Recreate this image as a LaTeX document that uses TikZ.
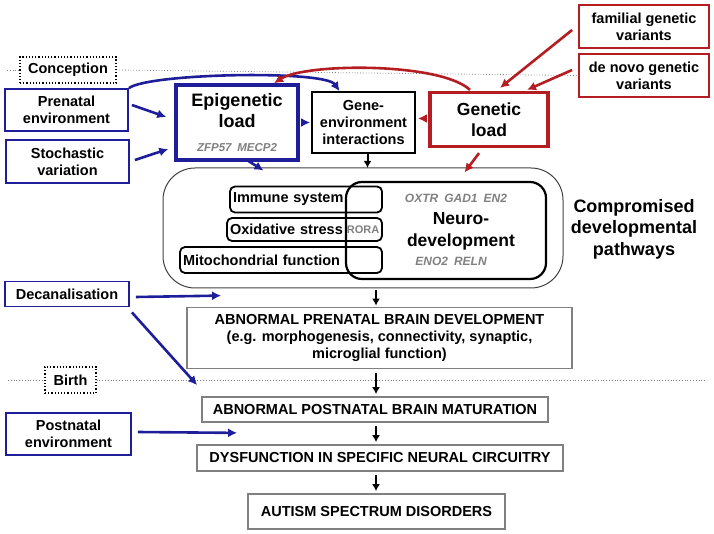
\documentclass[tikz,border=0pt]{standalone}
\usepackage{fontspec}
\setmainfont{Liberation Sans}
\usetikzlibrary{arrows.meta,positioning,calc}
\definecolor{epiblue}{RGB}{30,30,155}
\definecolor{genred}{RGB}{180,30,35}
\definecolor{genegray}{RGB}{128,128,128}
\definecolor{stagegray}{RGB}{128,128,128}

\begin{document}
\begin{tikzpicture}[x=1pt,y=-1pt,
  lbl/.style={font=\fontsize{14.5}{17}\selectfont\bfseries, align=center, inner sep=0pt},
  bluebox/.style={lbl, draw=epiblue, line width=1.8pt, fill=white},
  redbox/.style={lbl, draw=genred, line width=1.8pt, fill=white},
  stagebox/.style={lbl, draw=stagegray, line width=1.8pt, fill=white},
  subbox/.style={lbl, draw, line width=1.8pt, rounded corners=5pt, align=left, inner xsep=3pt},
  timebox/.style={lbl, draw, dotted, line width=1.2pt, fill=white},
  timeline/.style={dotted, gray, line width=0.8pt},
  gene/.style={font=\fontsize{12}{14}\selectfont\bfseries\itshape, text=genegray, inner sep=0pt},
  bluearr/.style={-{Latex[length=9pt,width=9pt]}, epiblue, line width=2.6pt},
  redarr/.style={-{Latex[length=9pt,width=9pt]}, genred, line width=2.6pt},
  blackarr/.style={-{Latex[length=7pt,width=8pt]}, line width=2pt}]
\useasboundingbox (0,0) rectangle (714,534);

% time points
\node[timebox, minimum width=96, minimum height=26] (conception) at (68,70) {Conception};
\node[timebox, minimum width=51, minimum height=26] (birth) at (70.5,380) {Birth};
\node[redbox, minimum width=130, minimum height=43] (familial) at (644,26.5) {familial genetic\\variants};
\node[redbox, minimum width=130, minimum height=43] (denovo) at (644,75.5) {de novo genetic\\variants};
\draw[timeline] (7,70) -- (conception.west);
\draw[timeline] (conception.east) -- (denovo.west);
\draw[timeline] (8,380) -- (birth.west);
\draw[timeline] (birth.east) -- (706,380);

\node[bluebox, minimum width=123, minimum height=42] (prenatal) at (66.5,110) {Prenatal\\environment};
\node[bluebox, minimum width=123, minimum height=43] (stoch) at (67.5,161.5) {Stochastic\\variation};
\node[bluebox, line width=3.5pt, minimum width=122, minimum height=75, font=\fontsize{18}{21}\selectfont\bfseries] (epi) at (237,122.5) {Epigenetic\\load\\[3pt]{\fontsize{11.5}{13}\selectfont\itshape\color{genegray}ZFP57\enspace MECP2}};
\node[lbl, draw, line width=1.8pt, fill=white, minimum width=103, minimum height=61] (genenv) at (363.5,122.5) {Gene-\\environment\\interactions};
\node[redbox, line width=3.2pt, minimum width=118, minimum height=54, font=\fontsize{17.5}{21}\selectfont\bfseries] (genload) at (489,119.5) {Genetic\\load};

% pathways
\node[draw=black!75, line width=1pt, rounded corners=32pt, minimum width=400, minimum height=120] (pathways) at (363,228) {};
\node[draw, line width=2.2pt, rounded corners=16pt, minimum width=200, minimum height=97] (neuro) at (446,230.5) {};
\node[subbox, text width=146, minimum height=26] (immune) at (306,199.5) {Immune system};
\node[subbox, text width=149, minimum height=23] (oxid) at (304.5,229.5) {Oxidative stress};
\node[subbox, text width=196, minimum height=26] (mito) at (281,260) {Mitochondrial function};
\node[font=\fontsize{11}{13}\selectfont\bfseries, text=genegray, inner sep=0pt] (rora) at (363,230) {RORA};
\node[lbl, font=\fontsize{17.5}{22}\selectfont\bfseries] (neurotxt) at (461,231) {Neuro-\\development};
\node[gene] (genesup) at (456,198) {OXTR\enspace GAD1\enspace EN2};
\node[gene] (geneslow) at (451,261) {ENO2\enspace RELN};
\node[lbl, font=\fontsize{18}{21.5}\selectfont\bfseries] (comp) at (634,229) {Compromised\\developmental\\pathways};

% outcomes
\node[bluebox, minimum width=124, minimum height=25] (decan) at (67,294) {Decanalisation};
\node[bluebox, minimum width=125, minimum height=42] (postenv) at (68.5,434) {Postnatal\\environment};
\node[stagebox, minimum width=385, minimum height=61] (prenbrain) at (379.5,338) {ABNORMAL PRENATAL BRAIN DEVELOPMENT\\(e.g. morphogenesis, connectivity, synaptic,\\microglial function)};
\node[stagebox, minimum width=346, minimum height=25] (postbrain) at (375,409.5) {ABNORMAL POSTNATAL BRAIN MATURATION};
\node[stagebox, minimum width=366, minimum height=26] (dysf) at (380,458) {DYSFUNCTION IN SPECIFIC NEURAL CIRCUITRY};
\node[stagebox, minimum width=257, minimum height=35] (asd) at (376.5,511.5) {AUTISM SPECTRUM DISORDERS};

\draw[bluearr] ($(prenatal.east)+(3,-5)$) -- ($(epi.west)+(-8,-5.5)$);
\draw[bluearr] ($(stoch.east)+(5,-1.5)$) -- ($(epi.west)+(-6,26.5)$);
\draw[bluearr, line width=2pt] ($(epi.east)+(2,0)$) -- ($(genenv.west)+(-1,0)$);
\draw[bluearr] (prenatal.north east) .. controls (150,73) and (325,70) .. ($(genenv.north)+(-24,0)$);
\draw[bluearr] ($(epi.south)+(11,-1)$) -- ($(pathways.north west)+(101,3)$);
\draw[redarr] ($(genload.north)+(-19,-1)$) .. controls (440,62) and (305,63) .. ($(epi.north)+(37,0)$);
\draw[redarr, line width=2pt] ($(genload.west)+(-1,-1)$) -- ($(genenv.east)+(2,-4)$);
\draw[redarr] ($(genload.south)+(-10,5)$) -- ($(pathways.north east)+(-99,5)$);
\draw[redarr] ($(familial.west)+(-6,3.5)$) -- ($(genload.north)+(11,-3)$);
\draw[redarr] ($(denovo.west)+(-6,-5.5)$) -- ($(genload.north)+(38,-1)$);
\draw[blackarr] ($(genenv.south)+(4,0)$) -- ($(genenv.south)+(4,14)$);

\draw[blackarr] ($(pathways.south)+(13,2)$) -- ($(prenbrain.north)+(-3.5,-1)$);
\draw[blackarr] ($(prenbrain.south)+(-3.5,4)$) -- ($(postbrain.north)+(1,-2)$);
\draw[blackarr] ($(postbrain.south)+(1,3)$) -- ($(dysf.north)+(-4,-2)$);
\draw[blackarr] ($(dysf.south)+(-4,3)$) -- ($(asd.north)+(-0.5,-2)$);
\draw[bluearr] ($(decan.east)+(6,3)$) -- ($(prenbrain.north west)+(35,-11)$);
\draw[bluearr] ($(decan.south east)+(2,5)$) -- ($(postbrain.north west)+(-4,-11)$);
\draw[bluearr] ($(postenv.east)+(6,-2)$) -- ($(postbrain.south west)+(36,10)$);
\end{tikzpicture}
\end{document}
